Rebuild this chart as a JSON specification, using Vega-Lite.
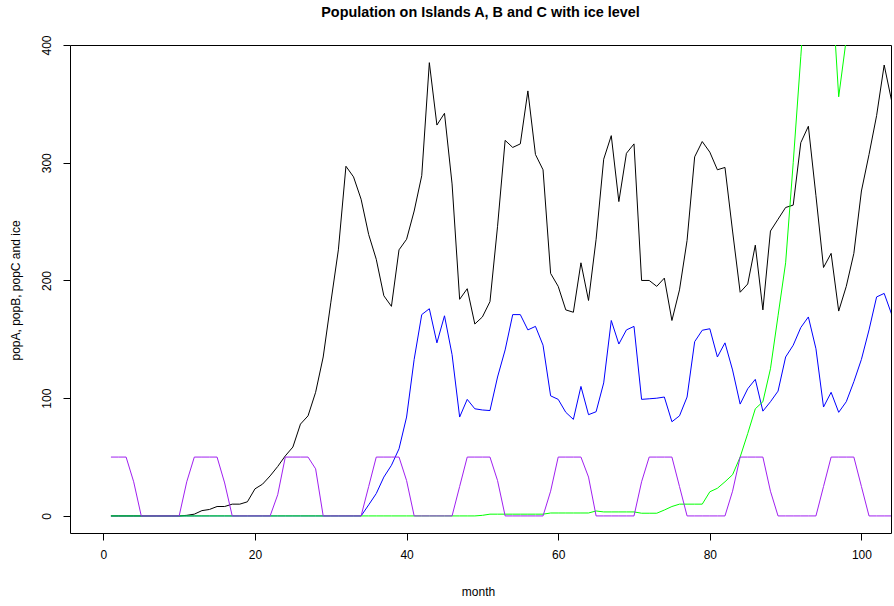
{
  "$schema": "https://vega.github.io/schema/vega-lite/v6.json",
  "width": 821,
  "height": 488,
  "autosize": "none",
  "padding": {"left": 70, "top": 45, "right": 3, "bottom": 73},
  "background": "white",
  "config": {
    "font": "Liberation Sans",
    "view": {"stroke": "#000000", "strokeWidth": 1},
    "axis": {"grid": false, "domain": false, "tickColor": "#000000", "tickSize": 7, "labelColor": "#000000", "titleColor": "#000000", "labelFontSize": 12, "titleFontSize": 12, "titleFontWeight": "normal", "labelFont": "Liberation Sans", "titleFont": "Liberation Sans"}
  },
  "title": {"text": "Population on Islands A, B and C with ice level", "fontSize": 14.4, "fontWeight": "bold", "font": "Liberation Sans", "anchor": "middle", "frame": "group", "offset": 15, "color": "#000000"},
  "data": {"values": [
    {"month":1,"popA":0,"popB":0,"popC":0,"ice":50},
    {"month":2,"popA":0,"popB":0,"popC":0,"ice":50},
    {"month":3,"popA":0,"popB":0,"popC":0,"ice":50},
    {"month":4,"popA":0,"popB":0,"popC":0,"ice":29},
    {"month":5,"popA":0,"popB":0,"popC":0,"ice":0},
    {"month":6,"popA":0,"popB":0,"popC":0,"ice":0},
    {"month":7,"popA":0,"popB":0,"popC":0,"ice":0},
    {"month":8,"popA":0,"popB":0,"popC":0,"ice":0},
    {"month":9,"popA":0,"popB":0,"popC":0,"ice":0},
    {"month":10,"popA":0,"popB":0,"popC":0,"ice":0},
    {"month":11,"popA":0.5,"popB":0,"popC":0,"ice":29},
    {"month":12,"popA":1.5,"popB":0,"popC":0,"ice":50},
    {"month":13,"popA":4.5,"popB":0,"popC":0,"ice":50},
    {"month":14,"popA":5.5,"popB":0,"popC":0,"ice":50},
    {"month":15,"popA":8,"popB":0,"popC":0,"ice":50},
    {"month":16,"popA":8,"popB":0,"popC":0,"ice":28},
    {"month":17,"popA":10,"popB":0,"popC":0,"ice":0},
    {"month":18,"popA":10,"popB":0,"popC":0,"ice":0},
    {"month":19,"popA":12,"popB":0,"popC":0,"ice":0},
    {"month":20,"popA":23,"popB":0,"popC":0,"ice":0},
    {"month":21,"popA":27,"popB":0,"popC":0,"ice":0},
    {"month":22,"popA":34,"popB":0,"popC":0,"ice":0},
    {"month":23,"popA":42,"popB":0,"popC":0,"ice":18},
    {"month":24,"popA":51,"popB":0,"popC":0,"ice":50},
    {"month":25,"popA":58.5,"popB":0,"popC":0,"ice":50},
    {"month":26,"popA":78,"popB":0,"popC":0,"ice":50},
    {"month":27,"popA":85,"popB":0,"popC":0,"ice":50},
    {"month":28,"popA":105,"popB":0,"popC":0,"ice":40},
    {"month":29,"popA":135,"popB":0,"popC":0,"ice":0},
    {"month":30,"popA":181,"popB":0,"popC":0,"ice":0},
    {"month":31,"popA":226,"popB":0,"popC":0,"ice":0},
    {"month":32,"popA":297,"popB":0,"popC":0,"ice":0},
    {"month":33,"popA":288,"popB":0,"popC":0,"ice":0},
    {"month":34,"popA":269,"popB":0,"popC":0,"ice":0},
    {"month":35,"popA":239,"popB":9.4,"popC":0,"ice":25},
    {"month":36,"popA":218,"popB":19,"popC":0,"ice":50},
    {"month":37,"popA":187,"popB":33,"popC":0,"ice":50},
    {"month":38,"popA":178,"popB":43,"popC":0,"ice":50},
    {"month":39,"popA":226,"popB":57,"popC":0,"ice":50},
    {"month":40,"popA":235,"popB":84,"popC":0,"ice":30},
    {"month":41,"popA":259,"popB":133,"popC":0,"ice":0},
    {"month":42,"popA":289,"popB":171,"popC":0,"ice":0},
    {"month":43,"popA":385,"popB":176,"popC":0,"ice":0},
    {"month":44,"popA":332,"popB":147,"popC":0,"ice":0},
    {"month":45,"popA":342,"popB":170,"popC":0,"ice":0},
    {"month":46,"popA":282,"popB":137,"popC":0,"ice":0},
    {"month":47,"popA":184,"popB":84,"popC":0,"ice":25},
    {"month":48,"popA":193,"popB":99,"popC":0,"ice":50},
    {"month":49,"popA":163,"popB":91,"popC":0,"ice":50},
    {"month":50,"popA":169,"popB":90,"popC":0.5,"ice":50},
    {"month":51,"popA":182,"popB":89.5,"popC":1.5,"ice":50},
    {"month":52,"popA":246,"popB":118,"popC":1.5,"ice":30},
    {"month":53,"popA":319,"popB":141,"popC":1.5,"ice":0},
    {"month":54,"popA":313,"popB":171,"popC":1.5,"ice":0},
    {"month":55,"popA":316,"popB":171,"popC":1.5,"ice":0},
    {"month":56,"popA":361,"popB":158,"popC":1.5,"ice":0},
    {"month":57,"popA":307,"popB":161,"popC":1.5,"ice":0},
    {"month":58,"popA":294,"popB":145,"popC":1.5,"ice":0},
    {"month":59,"popA":206,"popB":102,"popC":2.5,"ice":21},
    {"month":60,"popA":195,"popB":99,"popC":2.5,"ice":50},
    {"month":61,"popA":175,"popB":88,"popC":2.5,"ice":50},
    {"month":62,"popA":173,"popB":82,"popC":2.5,"ice":50},
    {"month":63,"popA":215,"popB":110,"popC":2.5,"ice":50},
    {"month":64,"popA":183,"popB":86,"popC":2.5,"ice":33},
    {"month":65,"popA":235,"popB":88.5,"popC":4.2,"ice":0},
    {"month":66,"popA":303,"popB":113,"popC":3.4,"ice":0},
    {"month":67,"popA":323,"popB":166,"popC":3.4,"ice":0},
    {"month":68,"popA":267,"popB":146,"popC":3.4,"ice":0},
    {"month":69,"popA":308,"popB":158,"popC":3.4,"ice":0},
    {"month":70,"popA":316,"popB":161,"popC":3.4,"ice":0},
    {"month":71,"popA":200,"popB":99,"popC":2.3,"ice":29},
    {"month":72,"popA":200,"popB":99.5,"popC":2.3,"ice":50},
    {"month":73,"popA":195,"popB":100,"popC":2.3,"ice":50},
    {"month":74,"popA":202,"popB":101,"popC":5,"ice":50},
    {"month":75,"popA":166,"popB":80,"popC":8,"ice":50},
    {"month":76,"popA":192,"popB":85,"popC":10,"ice":25},
    {"month":77,"popA":234,"popB":101,"popC":10,"ice":0},
    {"month":78,"popA":305,"popB":148,"popC":10,"ice":0},
    {"month":79,"popA":318,"popB":157.7,"popC":10,"ice":0},
    {"month":80,"popA":309,"popB":159,"popC":20.5,"ice":0},
    {"month":81,"popA":294,"popB":135,"popC":23.5,"ice":0},
    {"month":82,"popA":296,"popB":147,"popC":29,"ice":0},
    {"month":83,"popA":242,"popB":124,"popC":35,"ice":21},
    {"month":84,"popA":190,"popB":95,"popC":50,"ice":50},
    {"month":85,"popA":197,"popB":108,"popC":70,"ice":50},
    {"month":86,"popA":230,"popB":116,"popC":91,"ice":50},
    {"month":87,"popA":175,"popB":89,"popC":97,"ice":50},
    {"month":88,"popA":242,"popB":97,"popC":125,"ice":21},
    {"month":89,"popA":252,"popB":106,"popC":170,"ice":0},
    {"month":90,"popA":262,"popB":135,"popC":215,"ice":0},
    {"month":91,"popA":264,"popB":145,"popC":300,"ice":0},
    {"month":92,"popA":317,"popB":160,"popC":390,"ice":0},
    {"month":93,"popA":331,"popB":169,"popC":480,"ice":0},
    {"month":94,"popA":272,"popB":142,"popC":540,"ice":0},
    {"month":95,"popA":211,"popB":92.5,"popC":520,"ice":25},
    {"month":96,"popA":223,"popB":105,"popC":460,"ice":50},
    {"month":97,"popA":174,"popB":88,"popC":356,"ice":50},
    {"month":98,"popA":195,"popB":97,"popC":405,"ice":50},
    {"month":99,"popA":223,"popB":114,"popC":480,"ice":50},
    {"month":100,"popA":276,"popB":133,"popC":550,"ice":25},
    {"month":101,"popA":307,"popB":158,"popC":600,"ice":0},
    {"month":102,"popA":340,"popB":186,"popC":650,"ice":0},
    {"month":103,"popA":383,"popB":189,"popC":700,"ice":0},
    {"month":104,"popA":352,"popB":171,"popC":750,"ice":0}
  ]},
  "encoding": {
    "x": {"field": "month", "type": "quantitative",
      "scale": {"domain": [-4.4, 103.9], "nice": false, "zero": false},
      "axis": {"values": [0, 20, 40, 60, 80, 100], "labelPadding": 9, "title": "month", "titleX": 408, "titleY": 58, "titleBaseline": "middle", "titleAlign": "center"}},
    "y": {"type": "quantitative",
      "scale": {"domain": [-14.5, 400], "nice": false, "zero": false},
      "axis": {"values": [0, 100, 200, 300, 400], "labelAngle": -90, "labelAlign": "center", "labelBaseline": "bottom", "labelPadding": 10, "title": "popA, popB, popC and ice", "titleAngle": -90, "titleX": -55, "titleY": 245, "titleAlign": "center", "titleBaseline": "middle"}}
  },
  "layer": [
    {"mark": {"type": "line", "color": "#000000", "strokeWidth": 1, "clip": true}, "encoding": {"y": {"field": "popA", "type": "quantitative"}}},
    {"mark": {"type": "line", "color": "#0000FF", "strokeWidth": 1, "clip": true}, "encoding": {"y": {"field": "popB", "type": "quantitative"}}},
    {"mark": {"type": "line", "color": "#00FF00", "strokeWidth": 1, "clip": true}, "encoding": {"y": {"field": "popC", "type": "quantitative"}}},
    {"mark": {"type": "line", "color": "#A020F0", "strokeWidth": 1, "clip": true}, "encoding": {"y": {"field": "ice", "type": "quantitative"}}}
  ]
}
